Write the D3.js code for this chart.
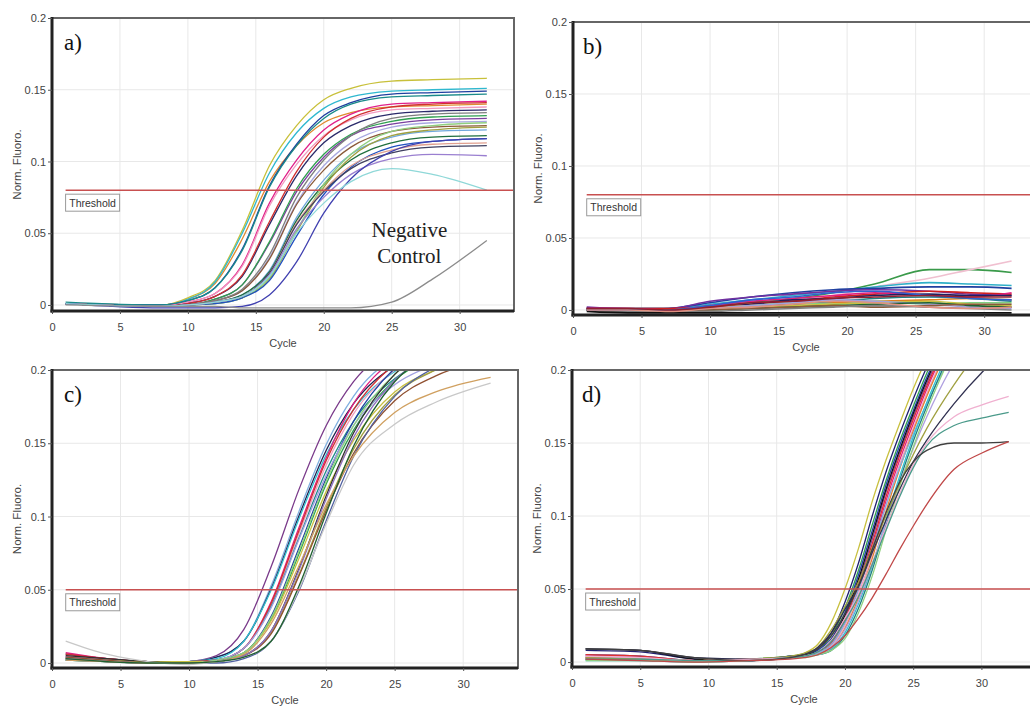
<!DOCTYPE html>
<html><head><meta charset="utf-8">
<script src="https://cdn.jsdelivr.net/npm/d3@7"></script>
<style>body{margin:0;background:#fff}svg{display:block}</style>
</head><body><svg id="chart" width="1030" height="706"></svg>
<script>
// ---------- shared tick labels ----------
const xTicks = [0, 5, 10, 15, 20, 25, 30];
const xTickLabels = ["0", "5", "10", "15", "20", "25", "30"];
const yTicks = [0, 0.05, 0.1, 0.15, 0.2];
const yTickLabels = ["0", "0.05", "0.1", "0.15", "0.2"];
const xTitle = "Cycle";
const yTitle = "Norm. Fluoro.";
const thresholdLabel = "Threshold";
const panelLabels = ["a)", "b)", "c)", "d)"];
const thresholds = [0.08, 0.08, 0.05, 0.05];
const negativeControlText = ["Negative", "Control"];

// ---------- panel a ----------
const cyclesA = [1, 8, 10, 12, 14, 16, 18, 20, 22, 25, 28, 32];
const seriesA = [
  [0.001,0.000,0.005,0.017,0.052,0.097,0.125,0.143,0.151,0.156,0.157,0.158],
  [0.001,0.000,0.004,0.015,0.046,0.086,0.111,0.127,0.134,0.138,0.139,0.140],
  [0.001,0.000,0.004,0.016,0.050,0.092,0.120,0.137,0.145,0.149,0.150,0.151],
  [0.001,0.000,0.003,0.012,0.039,0.083,0.112,0.132,0.141,0.147,0.148,0.149],
  [0.002,0.000,0.003,0.012,0.038,0.082,0.111,0.130,0.140,0.145,0.146,0.147],
  [0.001,-0.001,0.002,0.008,0.028,0.071,0.101,0.122,0.133,0.140,0.141,0.142],
  [0.001,-0.001,0.002,0.008,0.027,0.069,0.098,0.118,0.129,0.136,0.137,0.138],
  [0.001,-0.001,0.001,0.006,0.020,0.056,0.090,0.113,0.125,0.133,0.135,0.136],
  [0.001,-0.001,0.001,0.006,0.021,0.058,0.093,0.117,0.130,0.138,0.140,0.141],
  [0.001,-0.001,0.000,0.004,0.014,0.043,0.079,0.103,0.118,0.126,0.129,0.130],
  [0.001,-0.001,0.000,0.004,0.014,0.044,0.081,0.105,0.119,0.128,0.131,0.132],
  [0.001,-0.001,0.000,0.003,0.010,0.033,0.071,0.097,0.113,0.124,0.127,0.128],
  [0.001,-0.001,0.000,0.003,0.010,0.032,0.070,0.094,0.110,0.121,0.124,0.125],
  [0.001,-0.001,0.000,0.003,0.011,0.035,0.075,0.101,0.118,0.130,0.133,0.134],
  [0.001,-0.001,0.000,0.002,0.007,0.024,0.061,0.087,0.105,0.117,0.121,0.122],
  [0.001,-0.001,0.000,0.002,0.007,0.023,0.059,0.084,0.101,0.113,0.117,0.118],
  [0.001,-0.001,0.000,0.001,0.005,0.018,0.051,0.082,0.103,0.118,0.122,0.124],
  [0.001,-0.001,0.000,0.001,0.005,0.019,0.052,0.084,0.105,0.121,0.125,0.127],
  [0.001,-0.001,0.000,0.001,0.005,0.017,0.048,0.077,0.096,0.110,0.114,0.116],
  [0.001,-0.001,0.000,0.002,0.006,0.022,0.057,0.080,0.097,0.108,0.112,0.113],
  [0.001,-0.001,0.000,0.002,0.006,0.022,0.056,0.079,0.095,0.106,0.110,0.111],
  [0.001,-0.001,0.000,0.002,0.006,0.021,0.053,0.075,0.091,0.102,0.105,0.104],
  [0.001,-0.002,-0.002,-0.002,-0.001,0.007,0.030,0.064,0.088,0.107,0.114,0.116],
  [0.001,-0.001,0.000,0.002,0.006,0.020,0.050,0.071,0.086,0.095,0.091,0.080],
  [0.000,-0.001,-0.001,-0.001,-0.002,-0.002,-0.002,-0.002,-0.002,0.002,0.018,0.045]
];
const colorsA = ["#c8c03a","#e08a30","#2fb8cf","#1f3f9f","#1a8a8a","#e0208a","#f29ac0","#2a2a6a","#d03030","#7a3f9f","#2f9f4f","#a8a8e0","#8a5a3a","#7f7f7f","#6fa8dc","#1f6f3f","#a0a040","#90d080","#2050c0","#e0a090","#404060","#9a7fd0","#4040b0","#8fd8d8","#8c8c8c"];

// ---------- panel b ----------
const cyclesB = [1, 4, 7, 10, 13, 16, 19, 22, 26, 29, 32];
const seriesB = [
  [0.001,0.001,0.001,0.003,0.005,0.008,0.012,0.018,0.028,0.028,0.026],
  [0.001,0.001,0.001,0.002,0.004,0.007,0.010,0.016,0.022,0.028,0.034],
  [0.001,0.001,0.001,0.004,0.007,0.010,0.013,0.016,0.019,0.018,0.017],
  [0.001,0.000,0.001,0.005,0.009,0.012,0.014,0.015,0.016,0.016,0.015],
  [0.002,0.001,0.001,0.006,0.009,0.011,0.013,0.014,0.013,0.011,0.010],
  [0.001,0.001,0.001,0.002,0.004,0.006,0.009,0.011,0.013,0.012,0.011],
  [0.001,0.001,0.000,0.003,0.006,0.008,0.010,0.012,0.010,0.009,0.012],
  [0.001,0.000,0.000,0.002,0.004,0.007,0.008,0.010,0.011,0.010,0.010],
  [0.000,0.000,0.000,0.002,0.003,0.004,0.005,0.006,0.007,0.008,0.007],
  [0.000,0.000,0.000,0.001,0.002,0.004,0.006,0.008,0.009,0.008,0.006],
  [0.000,0.000,0.000,0.001,0.003,0.005,0.004,0.006,0.004,0.005,0.005],
  [0.000,0.000,0.000,0.001,0.002,0.003,0.004,0.005,0.006,0.004,0.003],
  [0.000,0.000,-0.001,0.001,0.003,0.005,0.007,0.006,0.004,0.002,0.001],
  [0.000,0.000,-0.001,0.000,0.001,0.002,0.003,0.004,0.005,0.003,0.002],
  [0.000,-0.001,-0.001,0.000,0.001,0.002,0.003,0.002,0.003,0.004,0.004],
  [0.000,-0.001,-0.001,-0.001,0.000,0.001,0.002,0.003,0.002,0.001,0.000],
  [-0.001,-0.002,-0.002,-0.002,-0.002,-0.002,-0.002,-0.002,-0.002,-0.002,-0.002],
  [0.000,0.000,0.000,0.003,0.007,0.009,0.012,0.013,0.010,0.008,0.007],
  [0.000,0.000,-0.001,0.001,0.002,0.004,0.006,0.005,0.002,0.001,0.002],
  [0.001,0.001,0.000,0.002,0.005,0.006,0.008,0.009,0.010,0.009,0.009]
];
const colorsB = ["#3a9a4a","#f0c0d0","#30b0c8","#2040a0","#7030a0","#d02020","#e02080","#202060","#e08020","#208080","#80d080","#c8c040","#a0a0e0","#206030","#8a5a3a","#808080","#101010","#3060d0","#e09080","#902030"];

// ---------- panel c ----------
const cyclesC = [1, 4, 7, 10, 12, 14, 16, 18, 20, 22, 25, 28, 32];
const seriesC = [
  [0.004,0.002,0.000,0.001,0.005,0.023,0.066,0.118,0.162,0.192,0.216,0.229,0.238],
  [0.003,0.002,0.000,0.001,0.004,0.015,0.053,0.103,0.149,0.182,0.209,0.222,0.233],
  [0.006,0.003,0.001,0.001,0.004,0.015,0.051,0.100,0.145,0.177,0.203,0.216,0.226],
  [0.002,0.001,0.000,0.001,0.003,0.015,0.050,0.098,0.142,0.173,0.199,0.212,0.221],
  [0.007,0.003,0.001,0.001,0.002,0.010,0.042,0.092,0.140,0.177,0.208,0.224,0.234],
  [0.005,0.002,0.000,0.001,0.002,0.010,0.040,0.088,0.135,0.170,0.200,0.215,0.225],
  [0.003,0.001,0.000,0.001,0.002,0.010,0.039,0.085,0.131,0.165,0.194,0.209,0.218],
  [0.006,0.003,0.001,0.001,0.002,0.010,0.041,0.090,0.138,0.173,0.204,0.219,0.230],
  [0.004,0.002,0.000,0.000,0.002,0.007,0.032,0.078,0.126,0.165,0.201,0.217,0.228],
  [0.002,0.001,0.000,0.000,0.001,0.007,0.030,0.074,0.122,0.159,0.193,0.209,0.220],
  [0.003,0.002,0.001,0.001,0.001,0.007,0.029,0.071,0.117,0.152,0.185,0.200,0.211],
  [0.004,0.002,0.000,0.000,0.002,0.010,0.038,0.084,0.128,0.162,0.190,0.204,0.214],
  [0.002,0.001,0.000,0.000,0.002,0.007,0.031,0.076,0.124,0.162,0.197,0.213,0.224],
  [0.005,0.003,0.001,0.000,0.001,0.005,0.022,0.064,0.114,0.157,0.197,0.215,0.227],
  [0.003,0.001,0.000,0.000,0.001,0.005,0.021,0.060,0.106,0.146,0.183,0.200,0.212],
  [0.004,0.002,0.000,0.000,0.001,0.005,0.020,0.059,0.104,0.143,0.179,0.196,0.207],
  [0.003,0.001,0.000,0.000,0.001,0.005,0.022,0.063,0.112,0.154,0.193,0.211,0.223],
  [0.002,0.001,0.000,0.000,0.000,0.003,0.015,0.049,0.097,0.141,0.182,0.202,0.215],
  [0.002,0.001,0.000,0.000,0.001,0.006,0.027,0.066,0.108,0.141,0.171,0.185,0.195],
  [0.015,0.006,0.001,-0.001,0.001,0.004,0.015,0.050,0.095,0.135,0.163,0.178,0.191],
  [0.003,0.001,0.000,0.000,0.001,0.004,0.015,0.052,0.102,0.148,0.192,0.212,0.226]
];
const colorsC = ["#7a3a8a","#80b0e0","#202050","#30c0d0","#e02080","#f0a0c0","#208a8a","#d03030","#2040a0","#30a050","#c8c040","#a0a0e0","#90d080","#303030","#a0a040","#905030","#9070c0","#5060a0","#d0a060","#c8c8c8","#206030"];

// ---------- panel d ----------
const cyclesD = [1, 5, 9, 13, 16, 17, 18, 19, 20, 21, 22, 23, 24, 25, 26, 28, 30, 32];
const seriesD = [
  [0.002,0.002,0.001,0.002,0.004,0.006,0.012,0.027,0.050,0.078,0.110,0.138,0.163,0.187,0.208,0.240,0.260,0.275],
  [0.003,0.002,0.001,0.002,0.004,0.005,0.008,0.018,0.037,0.063,0.094,0.124,0.151,0.175,0.198,0.233,0.255,0.270],
  [0.008,0.007,0.002,0.001,0.004,0.005,0.009,0.020,0.041,0.068,0.100,0.130,0.156,0.180,0.202,0.236,0.257,0.272],
  [0.005,0.004,0.001,0.001,0.004,0.005,0.008,0.016,0.034,0.060,0.090,0.121,0.148,0.172,0.195,0.231,0.254,0.269],
  [0.004,0.003,0.001,0.002,0.003,0.004,0.007,0.014,0.030,0.055,0.084,0.116,0.143,0.168,0.191,0.228,0.252,0.267],
  [0.009,0.008,0.002,0.001,0.003,0.005,0.007,0.015,0.032,0.057,0.087,0.118,0.145,0.170,0.193,0.230,0.253,0.268],
  [0.003,0.002,0.001,0.002,0.003,0.004,0.006,0.012,0.027,0.050,0.078,0.110,0.138,0.163,0.187,0.225,0.250,0.265],
  [0.004,0.003,0.001,0.002,0.003,0.004,0.006,0.011,0.025,0.047,0.074,0.107,0.135,0.160,0.184,0.223,0.249,0.264],
  [0.005,0.004,0.001,0.002,0.003,0.004,0.006,0.013,0.029,0.053,0.081,0.113,0.141,0.166,0.189,0.227,0.251,0.266],
  [0.002,0.002,0.001,0.002,0.003,0.004,0.006,0.010,0.023,0.044,0.071,0.103,0.132,0.158,0.182,0.222,0.248,0.263],
  [0.002,0.001,0.000,0.001,0.003,0.004,0.006,0.012,0.027,0.050,0.077,0.107,0.133,0.156,0.177,0.212,0.236,0.252],
  [0.001,0.001,0.000,0.001,0.003,0.004,0.005,0.009,0.020,0.040,0.066,0.097,0.127,0.154,0.178,0.219,0.246,0.261],
  [0.002,0.002,0.001,0.002,0.003,0.004,0.005,0.008,0.018,0.037,0.063,0.094,0.124,0.151,0.175,0.217,0.245,0.260],
  [0.003,0.002,0.001,0.002,0.003,0.004,0.005,0.010,0.022,0.042,0.067,0.095,0.122,0.146,0.168,0.205,0.232,0.250],
  [0.001,0.001,0.000,0.001,0.003,0.003,0.005,0.008,0.016,0.034,0.059,0.090,0.120,0.147,0.172,0.214,0.243,0.258],
  [0.003,0.002,0.001,0.002,0.004,0.006,0.010,0.022,0.038,0.055,0.078,0.100,0.122,0.142,0.160,0.190,0.215,0.235],
  [0.009,0.008,0.003,0.002,0.003,0.005,0.010,0.020,0.036,0.052,0.075,0.097,0.118,0.137,0.152,0.177,0.198,0.215],
  [0.004,0.003,0.001,0.002,0.003,0.004,0.007,0.015,0.030,0.046,0.068,0.092,0.115,0.135,0.150,0.168,0.176,0.182],
  [0.002,0.002,0.001,0.001,0.003,0.004,0.007,0.014,0.028,0.045,0.067,0.090,0.113,0.133,0.148,0.162,0.167,0.171],
  [0.009,0.008,0.003,0.001,0.003,0.005,0.009,0.018,0.033,0.052,0.077,0.102,0.123,0.137,0.145,0.150,0.150,0.151],
  [0.002,0.001,0.000,0.001,0.002,0.003,0.005,0.010,0.018,0.030,0.044,0.060,0.077,0.093,0.108,0.132,0.143,0.151]
];
const colorsD = ["#c8c040","#30a050","#202070","#2040b0","#8040a0","#101010","#e02080","#f0a0c0","#e03030","#e08030","#80b0e0","#30c0d0","#208080","#b0a0e0","#90d080","#a0a040","#303050","#f0b0d0","#4a9a8a","#404040","#c04848"];

// ---------- drawing ----------
const svg = d3.select("#chart");
const layouts = [
  {x0: 52,  x1: 514,  yTop: 18,  yBot: 311, yMin: -0.0042, lw: 1.3},
  {x0: 573, x1: 1039, yTop: 22,  yBot: 315, yMin: -0.0035, lw: 1.6},
  {x0: 52,  x1: 518,  yTop: 370, yBot: 668, yMin: -0.0034, lw: 1.3},
  {x0: 572, x1: 1036, yTop: 370, yBot: 667, yMin: -0.0034, lw: 1.3}
];
const data = [
  {cycles: cyclesA, series: seriesA, colors: colorsA},
  {cycles: cyclesB, series: seriesB, colors: colorsB},
  {cycles: cyclesC, series: seriesC, colors: colorsC},
  {cycles: cyclesD, series: seriesD, colors: colorsD}
];
const sans = "'Liberation Sans', Arial, sans-serif";
const serif = "'Liberation Serif', 'Times New Roman', serif";

data.forEach((p, k) => {
  const L = layouts[k];
  const x = d3.scaleLinear().domain([0, 34]).range([L.x0, L.x1]);
  const y = d3.scaleLinear().domain([L.yMin, 0.2]).range([L.yBot, L.yTop]);
  const g = svg.append("g");

  svg.append("clipPath").attr("id", "clip" + k).append("rect")
    .attr("x", L.x0).attr("y", L.yTop).attr("width", L.x1 - L.x0).attr("height", L.yBot - L.yTop);

  // gridlines
  g.append("g").selectAll("line").data(xTicks.filter(v => v > 0)).join("line")
    .attr("x1", d => x(d)).attr("x2", d => x(d)).attr("y1", L.yTop).attr("y2", L.yBot)
    .attr("stroke", "#e8e8e8").attr("stroke-width", 1);
  g.append("g").selectAll("line").data(yTicks.filter(v => v < 0.2)).join("line")
    .attr("x1", L.x0).attr("x2", L.x1).attr("y1", d => y(d)).attr("y2", d => y(d))
    .attr("stroke", "#e8e8e8").attr("stroke-width", 1);

  const plot = g.append("g").attr("clip-path", `url(#clip${k})`);
  const line = d3.line().x((d, i) => x(p.cycles[i])).y(d => y(d)).curve(d3.curveMonotoneX);
  plot.selectAll("path.curve").data(p.series).join("path").attr("class", "curve")
    .attr("d", line).attr("fill", "none")
    .attr("stroke", (d, i) => p.colors[i % p.colors.length])
    .attr("stroke-width", L.lw).attr("stroke-linejoin", "round");

  // threshold
  const ty = y(thresholds[k]);
  plot.append("line").attr("x1", x(1)).attr("x2", x(34)).attr("y1", ty).attr("y2", ty)
    .attr("stroke", "#c85050").attr("stroke-width", 1.5);
  const bx = x(1), bw = 54, bh = 17, by = ty + 4;
  g.append("rect").attr("x", bx).attr("y", by).attr("width", bw).attr("height", bh)
    .attr("fill", "#fff").attr("stroke", "#9a9a9a").attr("stroke-width", 1);
  g.append("text").attr("x", bx + bw / 2).attr("y", by + bh / 2 + 4)
    .attr("text-anchor", "middle").attr("font-family", sans).attr("font-size", 10.5)
    .attr("fill", "#333").text(thresholdLabel);

  // frame
  g.append("rect").attr("x", L.x0).attr("y", L.yTop).attr("width", L.x1 - L.x0).attr("height", L.yBot - L.yTop)
    .attr("fill", "none").attr("stroke", "#666").attr("stroke-width", 2);
  g.append("line").attr("x1", L.x0).attr("x2", L.x0).attr("y1", L.yTop - 1).attr("y2", L.yBot + 1.5)
    .attr("stroke", "#222").attr("stroke-width", 3);
  g.append("line").attr("x1", L.x0 - 1.5).attr("x2", L.x1).attr("y1", L.yBot).attr("y2", L.yBot)
    .attr("stroke", "#222").attr("stroke-width", 3);

  // axes
  const ax = g.append("g").attr("transform", `translate(0,${L.yBot})`)
    .call(d3.axisBottom(x).tickValues(xTicks).tickFormat((d, i) => xTickLabels[i]).tickSize(3).tickPadding(9));
  const ay = g.append("g").attr("transform", `translate(${L.x0},0)`)
    .call(d3.axisLeft(y).tickValues(yTicks).tickFormat((d, i) => yTickLabels[i]).tickSize(4).tickPadding(2));
  [ax, ay].forEach(a => {
    a.select(".domain").remove();
    a.selectAll(".tick line").attr("stroke", "#555");
    a.selectAll("text").attr("font-family", sans).attr("font-size", 11).attr("fill", "#444");
  });

  // titles
  g.append("text").attr("x", (L.x0 + L.x1) / 2).attr("y", L.yBot + 36)
    .attr("text-anchor", "middle").attr("font-family", sans).attr("font-size", 11).attr("fill", "#444").text(xTitle);
  g.append("text").attr("transform", `translate(${L.x0 - 31},${(L.yTop + L.yBot) / 2}) rotate(-90)`)
    .attr("text-anchor", "middle").attr("font-family", sans).attr("font-size", 11.5).attr("fill", "#444").text(yTitle);

  // panel label
  g.append("text").attr("x", L.x0 + (k % 2 ? 10 : 12)).attr("y", L.yTop + 32)
    .attr("font-family", serif).attr("font-size", 23).attr("fill", "#111").text(panelLabels[k]);

  if (k === 0) {
    g.append("text").attr("x", x(26.3)).attr("y", y(0.0475))
      .attr("text-anchor", "middle").attr("font-family", serif).attr("font-size", 21).attr("fill", "#222").text(negativeControlText[0]);
    g.append("text").attr("x", x(26.3)).attr("y", y(0.0295))
      .attr("text-anchor", "middle").attr("font-family", serif).attr("font-size", 21).attr("fill", "#222").text(negativeControlText[1]);
  }
});
</script></body></html>
